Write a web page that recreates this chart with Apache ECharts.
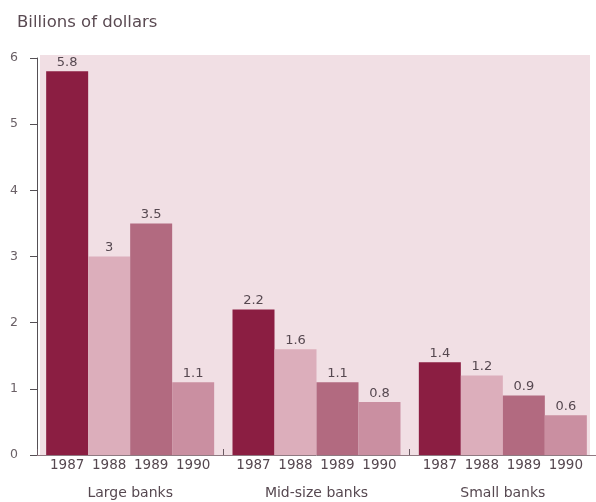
<!DOCTYPE html>
<html>
<head>
<meta charset="utf-8">
<script src="https://cdn.jsdelivr.net/npm/echarts@6/dist/echarts.min.js"></script>
<style>
  html, body { margin: 0; padding: 0; background: #ffffff; }
  #chart { width: 596px; height: 502px; }
</style>
</head>
<body>
<div id="chart"></div>
<script>
// Bank groups along the x axis
const groups = ['Large banks', 'Mid-size banks', 'Small banks'];
// Years shown as separate bars inside each group
const years = ['1987', '1988', '1989', '1990'];
// Billions of dollars, one array per year (Large, Mid-size, Small)
const values1987 = [5.8, 2.2, 1.4];
const values1988 = [3.0, 1.6, 1.2];
const values1989 = [3.5, 1.1, 0.9];
const values1990 = [1.1, 0.8, 0.6];
// Y-axis ticks
const yTicks = [0, 1, 2, 3, 4, 5, 6];

const yearValues = [values1987, values1988, values1989, values1990];
const yearColors = ['#8b1e42', '#dcaebb', '#b26a80', '#ca8fa1'];
const fontFamily = '"DejaVu Sans", Verdana, sans-serif';
const textColor = '#564850';

const chart = echarts.init(document.getElementById('chart'), null, { renderer: 'canvas' });

const labelRich = {
  y: { width: 42, align: 'center', fontSize: 13.5, color: textColor, lineHeight: 17, fontFamily },
  g: { fontSize: 14, color: textColor, lineHeight: 39, fontFamily }
};

chart.setOption({
  animation: false,
  backgroundColor: '#ffffff',
  title: {
    text: 'Billions of dollars',
    left: 12,
    top: 9,
    textStyle: { fontSize: 16.5, fontWeight: 'normal', color: '#5a4a52', fontFamily }
  },
  // pink plot panel behind the bars
  graphic: [{
    type: 'rect',
    z: -1,
    shape: { x: 40, y: 55, width: 550, height: 400 },
    style: { fill: '#f1dfe4' },
    silent: true
  }],
  grid: { left: 37, right: 0, top: 58, bottom: 47, show: false },
  xAxis: {
    type: 'category',
    data: groups,
    axisLine: { show: true, lineStyle: { color: '#8f7a82', width: 1 } },
    axisTick: { show: true, inside: true, length: 6, lineStyle: { color: '#6a5a62' } },
    axisLabel: {
      margin: 2,
      interval: 0,
      formatter: function (name) {
        return years.map(function (yr) { return '{y|' + yr + '}'; }).join('') + '\n{g|' + name + '}';
      },
      rich: labelRich
    }
  },
  yAxis: {
    type: 'value',
    min: yTicks[0],
    max: yTicks[yTicks.length - 1],
    interval: 1,
    splitLine: { show: false },
    axisLine: { show: true, lineStyle: { color: '#555055', width: 1 } },
    axisTick: { show: true, inside: false, length: 7, lineStyle: { color: '#555055' } },
    axisLabel: { margin: 19, fontSize: 12.5, color: '#6a6066', fontFamily }
  },
  series: years.map(function (yr, i) {
    return {
      name: yr,
      type: 'bar',
      data: yearValues[i],
      barWidth: 42,
      barGap: '0%',
      itemStyle: { color: yearColors[i] },
      label: {
        show: true,
        position: 'top',
        distance: 2,
        fontSize: 13,
        color: textColor,
        fontFamily,
        formatter: function (p) { return String(p.value); }
      }
    };
  })
});
</script>
</body>
</html>
